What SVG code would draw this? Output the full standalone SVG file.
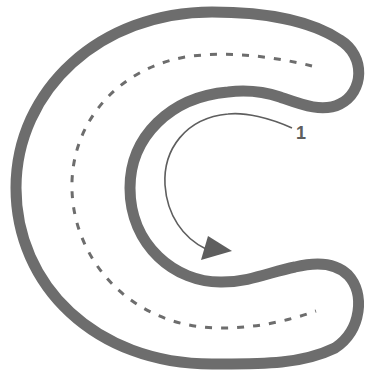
<svg xmlns="http://www.w3.org/2000/svg" width="369" height="374" viewBox="0 0 369 374">
<style>
.shape{fill:none;stroke:#6d6d6d;stroke-linejoin:round;stroke-linecap:round}
.dash{fill:none;stroke:#6d6d6d;stroke-width:3;stroke-dasharray:7 9}
.arrow{fill:none;stroke:#5e5e5e;stroke-width:1.6}
.label{font-family:"Liberation Sans",Arial,sans-serif;font-size:18px;font-weight:bold;fill:#5e5e5e}
</style>
<rect width="369" height="374" fill="#ffffff"/>
<g id="c-shape">
<path class="shape" stroke-width="11" d="M212 12 C262 12 310 20 340 40 C366 56 364 92 340 104 C322 113 300 104 280 97 C262 91 245 90 228 92 C170 97 130 137 130 188 C130 245 175 283 222 282 C250 282 270 272 295 267 C315 262 335 262 348 275 C365 293 362 330 335 348 C300 365 260 364 212 364 C95 364 16 285 16 188 C16 90 100 12 212 12 Z"/>
</g>
<g id="path-dashed">
<path class="dash" d="M312 66 C280 58 230 50 185 57 C115 70 70 125 72 190 C74 260 130 325 215 328 C250 329 285 322 316 311"/>
</g>
<g id="connectors">
<path class="arrow" d="M292 128 C270 118 245 112 228 114 C185 118 163 150 165 185 C167 215 183 238 206 249"/>
<polygon points="208,236 201,260 232,251" fill="#5e5e5e"/>
</g>
<g id="label-1">
<text class="label" x="301" y="139" text-anchor="middle">1</text>
</g>
</svg>
